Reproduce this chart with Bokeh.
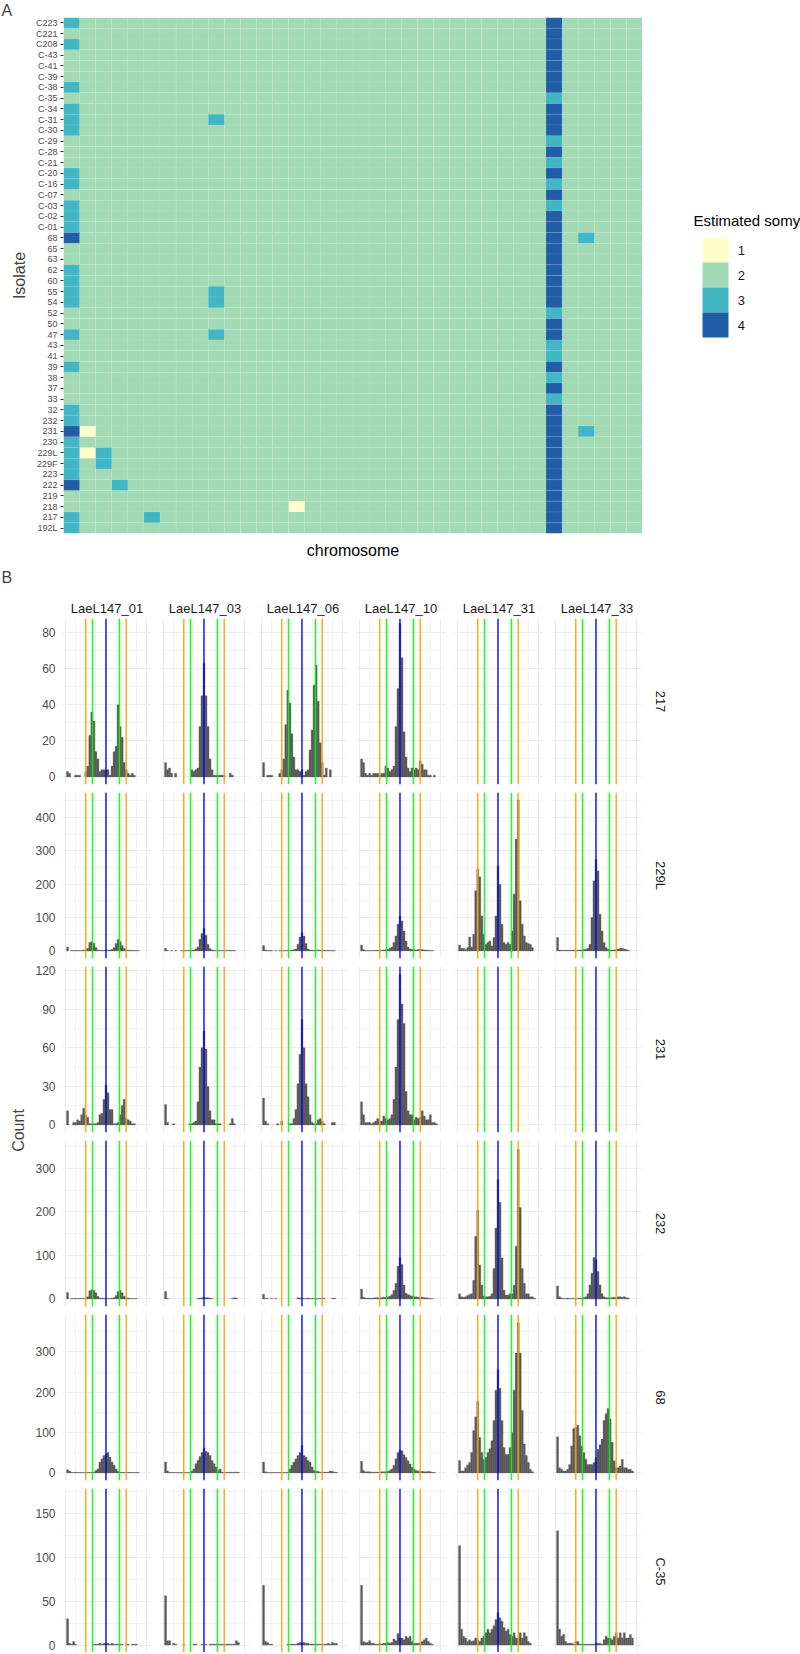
import numpy as np
from bokeh.plotting import figure
from bokeh.models import (ColumnDataSource, FactorRange, Range1d, Label, FixedTicker, Span, Grid, Title)
from bokeh.layouts import column, row
from bokeh.embed import file_html
from bokeh.resources import INLINE
from bokeh.core.properties import value

FONT = "Liberation Sans"

# ---------------- Panel A data ----------------
isolates = ["C223", "C221", "C208", "C-43", "C-41", "C-39", "C-38", "C-35", "C-34", "C-31",
            "C-30", "C-29", "C-28", "C-21", "C-20", "C-16", "C-07", "C-03", "C-02", "C-01",
            "68", "65", "63", "62", "60", "55", "54", "52", "50", "47",
            "43", "41", "39", "38", "37", "33", "32", "232", "231", "230",
            "229L", "229F", "223", "222", "219", "218", "217", "192L"]
chromosomes = list(range(1, 37))
# estimated somy per isolate (top to bottom), chromosomes 1..36 in blocks of six
somy_rows = [
    "322222 222222 222222 222222 222222 422222",  # C223
    "222222 222222 222222 222222 222222 422222",  # C221
    "322222 222222 222222 222222 222222 422222",  # C208
    "222222 222222 222222 222222 222222 422222",  # C-43
    "222222 222222 222222 222222 222222 422222",  # C-41
    "222222 222222 222222 222222 222222 422222",  # C-39
    "322222 222222 222222 222222 222222 422222",  # C-38
    "222222 222222 222222 222222 222222 322222",  # C-35
    "322222 222222 222222 222222 222222 422222",  # C-34
    "322222 222322 222222 222222 222222 422222",  # C-31
    "322222 222222 222222 222222 222222 422222",  # C-30
    "222222 222222 222222 222222 222222 322222",  # C-29
    "222222 222222 222222 222222 222222 422222",  # C-28
    "222222 222222 222222 222222 222222 322222",  # C-21
    "322222 222222 222222 222222 222222 422222",  # C-20
    "322222 222222 222222 222222 222222 322222",  # C-16
    "222222 222222 222222 222222 222222 422222",  # C-07
    "322222 222222 222222 222222 222222 322222",  # C-03
    "322222 222222 222222 222222 222222 422222",  # C-02
    "322222 222222 222222 222222 222222 422222",  # C-01
    "422222 222222 222222 222222 222222 423222",  # 68
    "222222 222222 222222 222222 222222 422222",  # 65
    "222222 222222 222222 222222 222222 422222",  # 63
    "322222 222222 222222 222222 222222 422222",  # 62
    "322222 222222 222222 222222 222222 422222",  # 60
    "322222 222322 222222 222222 222222 422222",  # 55
    "322222 222322 222222 222222 222222 422222",  # 54
    "222222 222222 222222 222222 222222 322222",  # 52
    "222222 222222 222222 222222 222222 422222",  # 50
    "322222 222322 222222 222222 222222 422222",  # 47
    "222222 222222 222222 222222 222222 322222",  # 43
    "222222 222222 222222 222222 222222 322222",  # 41
    "322222 222222 222222 222222 222222 422222",  # 39
    "222222 222222 222222 222222 222222 322222",  # 38
    "222222 222222 222222 222222 222222 422222",  # 37
    "222222 222222 222222 222222 222222 322222",  # 33
    "322222 222222 222222 222222 222222 422222",  # 32
    "322222 222222 222222 222222 222222 422222",  # 232
    "412222 222222 222222 222222 222222 423222",  # 231
    "322222 222222 222222 222222 222222 422222",  # 230
    "313222 222222 222222 222222 222222 422222",  # 229L
    "323222 222222 222222 222222 222222 422222",  # 229F
    "322222 222222 222222 222222 222222 422222",  # 223
    "422322 222222 222222 222222 222222 422222",  # 222
    "222222 222222 222222 222222 222222 422222",  # 219
    "222222 222222 221222 222222 222222 422222",  # 218
    "322223 222222 222222 222222 222222 422222",  # 217
    "322222 222222 222222 222222 222222 422222",  # 192L
]
somy_levels = ["1", "2", "3", "4"]
somy_palette = ["#FFFFCC", "#A1DAB4", "#41B6C4", "#225EA8"]

# ---------------- Panel B data (allele-frequency histograms, bins of 0.025 centred on k*0.025) ----------------
hist_isolates = ["217", "229L", "231", "232", "68", "C-35"]
hist_chroms = ["LaeL147_01", "LaeL147_03", "LaeL147_06", "LaeL147_10", "LaeL147_31", "LaeL147_33"]
bin_width = 0.025

c217_01 = [0,3,2,0,0,1,1,1,0,0, 3,6,23,36,31,14,10,3,4,4, 4,4,1,6,14,17,40,28,22,8, 4,2,1,2,1,0,0,0,0,0,0]
c217_03 = [0,8,4,5,2,0,2,0,0,0, 0,0,0,0,4,3,4,5,28,45, 63,45,28,10,4,1,1,1,1,1, 1,0,0,2,1,0,0,0,0,0,0]
c217_06 = [0,8,0,1,1,1,0,0,0,2, 4,10,29,48,41,24,11,4,4,3, 4,1,3,4,15,26,51,62,42,19, 8,1,5,0,4,0,0,0,0,0,0]
c217_10 = [0,10,8,2,1,2,1,2,2,2, 1,2,2,6,5,3,4,6,28,49, 85,66,25,11,5,3,5,4,5,4, 9,7,4,4,1,1,0,1,0,0,0]
c217_31 = [0]*41
c217_33 = [0]*41

c229L_01 = [0,12,0,1,1,1,1,1,2,2, 4,8,25,28,23,10,3,2,2,2, 2,2,3,4,10,22,35,28,16,8, 3,2,2,2,1,1,1,0,0,0,0]
c229L_03 = [0,8,1,0,1,0,1,0,0,1, 1,1,1,1,2,3,6,12,35,52, 68,47,20,7,3,2,1,1,1,1, 1,1,1,2,1,1,0,0,0,0,0]
c229L_06 = [0,16,3,1,1,1,0,1,0,1, 1,1,1,1,1,2,4,6,20,42, 55,45,22,6,3,2,2,2,3,2, 2,2,1,2,1,1,1,0,0,0,0]
c229L_10 = [0,18,4,1,1,1,1,1,2,2, 2,2,3,4,5,8,12,25,45,80, 105,90,60,30,12,6,5,4,3,4, 5,4,3,3,2,1,1,0,0,0,0]
c229L_31 = [0,18,8,8,4,10,42,12,50,180, 245,222,105,50,20,25,30,15,40,105, 255,200,80,25,20,25,20,60,170,335, 453,150,80,45,25,22,20,10,0,0,0]
c229L_33 = [0,40,3,2,2,2,2,2,2,3, 2,2,3,3,4,5,8,20,100,210, 275,240,110,60,25,10,5,3,3,3, 4,6,8,8,6,4,2,0,0,0,0]

c231_01 = [0,11,0,0,2,2,4,3,8,13, 8,6,1,1,1,1,2,8,9,20, 31,25,12,12,1,1,2,8,15,20, 5,4,3,1,1,0,0,0,0,0,0]
c231_03 = [0,16,2,0,0,1,0,0,0,0, 0,0,0,1,1,2,3,18,45,60, 73,59,30,11,4,4,1,1,1,0, 0,0,0,1,5,1,0,0,0,0,0]
c231_06 = [0,21,3,1,0,0,0,0,1,0, 3,0,0,0,1,1,5,12,32,55, 82,60,32,22,8,2,1,1,4,5, 3,1,0,0,0,2,2,0,0,0,0]
c231_10 = [0,18,8,2,2,2,1,2,3,5, 3,3,7,5,4,5,8,20,45,82, 117,94,79,26,11,8,8,4,6,5, 6,11,7,4,4,8,2,2,1,0,0]
c231_31 = [0]*41
c231_33 = [0]*41

c232_01 = [0,15,0,1,1,1,1,1,1,1, 2,5,19,21,20,14,6,2,2,1, 1,1,1,2,3,8,17,20,14,6, 3,2,1,1,1,1,0,0,0,0,0]
c232_03 = [0,17,1,0,0,0,0,0,0,0, 0,0,0,0,0,0,0,1,2,3, 4,3,3,2,1,0,0,0,0,0, 0,0,0,0,1,3,2,0,0,0,0]
c232_06 = [0,11,1,1,0,1,0,1,0,0, 0,0,0,0,0,0,0,0,3,2, 2,1,1,2,1,1,1,1,1,1, 2,1,0,0,0,1,2,0,0,0,0]
c232_10 = [0,23,4,2,2,2,2,2,3,3, 3,3,4,4,5,6,10,20,36,75, 95,79,32,13,10,8,6,5,5,4, 4,4,3,3,2,1,1,0,0,0,0]
c232_31 = [0,12,5,4,5,8,10,12,43,144, 204,78,32,7,5,5,6,12,70,163, 274,222,94,20,9,9,12,12,32,121, 343,210,70,36,12,12,5,5,2,0,0]
c232_33 = [0,30,5,2,1,1,2,1,1,1, 1,1,2,2,3,5,12,32,59,95, 90,63,32,12,5,3,3,3,3,4, 4,5,5,4,5,3,2,0,0,0,0]

c68_01 = [0,8,5,1,1,2,1,1,1,1, 1,1,1,1,2,6,10,27,35,43, 47,51,39,27,19,10,4,2,2,1, 1,2,1,1,1,1,1,0,0,0,0]
c68_03 = [0,27,5,1,1,1,1,1,1,1, 1,1,1,1,5,10,23,31,41,51, 62,54,51,43,31,23,15,6,10,2, 1,1,2,2,1,2,2,2,0,0,0]
c68_06 = [0,27,3,1,1,1,1,1,1,1, 1,1,1,2,10,19,27,35,43,51, 68,43,39,31,27,15,6,4,4,2, 2,2,2,2,5,4,2,2,0,0,0]
c68_10 = [0,29,6,3,3,3,2,2,2,2, 2,3,3,3,4,6,10,19,35,51, 57,55,45,38,30,22,14,10,6,5, 4,4,3,3,4,3,2,1,0,0,0]
c68_31 = [0,31,5,5,13,20,26,51,105,139, 178,88,51,34,38,51,60,80,130,205, 256,210,130,63,46,46,63,100,205,297, 373,297,155,72,43,26,9,3,0,0,0]
c68_33 = [0,90,13,9,5,5,9,21,67,110, 113,118,92,67,51,34,21,21,21,26, 38,59,70,84,130,147,160,134,76,30, 13,13,17,34,13,13,9,9,5,0,0]

cC35_01 = [0,30,2,1,4,1,0,0,0,0, 0,0,0,0,1,1,1,2,1,2, 2,2,1,2,1,1,1,1,1,0, 1,1,0,1,1,1,0,0,0,0,0]
cC35_03 = [0,56,5,5,0,2,1,0,0,0, 1,0,0,0,0,1,1,0,0,1, 0,1,0,1,1,1,1,1,1,1, 1,1,1,1,1,1,5,3,0,0,0]
cC35_06 = [0,68,4,3,1,1,0,0,0,0, 0,0,0,1,1,1,1,1,2,3, 3,3,2,2,1,1,1,1,1,1, 1,1,1,2,1,3,2,2,0,0,0]
cC35_10 = [0,68,4,3,3,5,2,2,1,1, 2,1,2,2,3,2,3,7,5,13, 8,8,6,10,8,10,4,2,2,2, 2,4,6,8,4,2,1,0,0,0,0]
cC35_31 = [0,113,18,10,8,4,6,4,5,8, 6,4,8,10,14,18,14,18,22,29, 37,31,27,20,16,18,12,10,14,8, 8,14,8,14,10,4,2,0,0,0,0]
cC35_33 = [0,130,18,10,12,4,2,2,2,1, 4,4,1,1,1,1,1,1,1,1, 2,2,2,1,6,10,8,8,6,10, 14,8,14,8,14,8,8,12,8,0,0]

hist_table = [
    [c217_01, c217_03, c217_06, c217_10, c217_31, c217_33],
    [c229L_01, c229L_03, c229L_06, c229L_10, c229L_31, c229L_33],
    [c231_01, c231_03, c231_06, c231_10, c231_31, c231_33],
    [c232_01, c232_03, c232_06, c232_10, c232_31, c232_33],
    [c68_01, c68_03, c68_06, c68_10, c68_31, c68_33],
    [cC35_01, cC35_03, cC35_06, cC35_10, cC35_31, cC35_33],
]
# free y scales (upper data limit of each facet row) and their tick labels
row_ymax = [83.6, 452, 117.4, 346.5, 374, 169.5]
row_yticks = [[0, 20, 40, 60, 80], [0, 100, 200, 300, 400], [0, 30, 60, 90, 120],
              [0, 100, 200, 300], [0, 100, 200, 300], [0, 50, 100, 150]]
# expected allele frequency lines
ref_freqs = [0.25, 1/3, 0.5, 2/3, 0.75]
ref_colors = ["#FFA500", "#00FF00", "#0000FF", "#00FF00", "#FFA500"]

# ======================= Panel A =======================
pA = figure(width=610, height=570, x_range=Range1d(0.5, 36.5),
            y_range=FactorRange(factors=isolates[::-1]),
            output_backend="svg", toolbar_location=None,
            min_border_left=30, min_border_right=0, min_border_top=17, min_border_bottom=37)
pA.grid.visible = False
pA.outline_line_color = None

for lev, col in zip(somy_levels, somy_palette):
    xs, ys = [], []
    for iso, srow in zip(isolates, somy_rows):
        s = srow.replace(" ", "")
        for ch, v in zip(chromosomes, s):
            if v == lev:
                xs.append(ch)
                ys.append(iso)
    src = ColumnDataSource(dict(x=xs, y=ys))
    pA.rect(x="x", y="y", width=1, height=1, source=src, fill_color=col,
            line_color="white", line_alpha=0.12, line_width=0.6)

pA.xaxis.ticker = FixedTicker(ticks=[])
pA.xaxis.axis_line_color = None
pA.xaxis.major_tick_out = 0
pA.xaxis.major_label_standoff = 0
pA.xaxis.axis_label = "chromosome"
pA.xaxis.axis_label_standoff = 8
pA.xaxis.axis_label_text_font = FONT
pA.xaxis.axis_label_text_font_size = "16px"
pA.xaxis.axis_label_text_font_style = "normal"
pA.xaxis.axis_label_text_color = "#000000"

pA.yaxis.axis_line_color = None
pA.yaxis.major_tick_out = 3
pA.yaxis.major_tick_in = 0
pA.yaxis.major_tick_line_color = "#333333"
pA.yaxis.major_label_text_font = FONT
pA.yaxis.major_label_text_font_size = "9px"
pA.yaxis.major_label_text_color = "#4D4D4D"
pA.yaxis.major_label_standoff = 3

# colour key: same frame height as the heatmap; one key unit = 26 px wide, 25 px tall
KEY_W, KEY_H = 26, 25
legW, legML = 158, 51
legFW, legFH = legW - legML, 516
key_left_px, key1_center_px = 9, 232.5       # offsets inside the key panel frame
legfig = figure(width=legW, height=570,
                x_range=Range1d(-key_left_px / KEY_W, (legFW - key_left_px) / KEY_W),
                y_range=Range1d(key1_center_px / KEY_H - legFH / KEY_H, key1_center_px / KEY_H),
                output_backend="svg", toolbar_location=None,
                x_axis_location=None, y_axis_location=None,
                min_border_left=legML, min_border_right=0, min_border_top=17, min_border_bottom=37)
legfig.grid.visible = False
legfig.outline_line_color = None
key_y = [-i for i in range(len(somy_levels))]
legfig.hbar(y=key_y, left=0, right=1, height=1, fill_color=somy_palette, line_color=None)
legfig.text(x=1.36, y=key_y, text=somy_levels, text_font=value(FONT), text_font_size="13px",
            text_color="#1A1A1A", text_baseline="middle", text_align="left")
legfig.add_layout(Label(x=0, y=legFH - 203, x_units="screen", y_units="screen", text="Estimated somy",
                        text_font=FONT, text_font_size="15px", text_color="#000000",
                        text_baseline="middle", text_align="left"))

# ======================= Panel B =======================
COLW = [124, 98, 98, 98, 98, 98]
COLML = [30, 4, 4, 4, 4, 4]
COLMR = [5, 5, 5, 5, 5, 5]
ROWH = [218, 174, 174, 174, 174, 168]
ROWMT = [48, 4, 4, 4, 4, 4]
ROWMB = [4, 4, 4, 4, 4, 0]
FH = 166

x_major = [0, 0.25, 0.5, 0.75, 1.0]
x_minor = [0.125, 0.375, 0.625, 0.875]

grid_rows = []
for r, iso in enumerate(hist_isolates):
    figs = []
    M = row_ymax[r]
    yt = row_yticks[r]
    step = yt[1] - yt[0]
    y_minor = [t + step / 2 for t in yt]
    for c, chrom in enumerate(hist_chroms):
        f = figure(width=COLW[c], height=ROWH[r],
                   x_range=Range1d(-0.0375, 1.0625), y_range=Range1d(-0.05 * M, 1.05 * M),
                   output_backend="svg", toolbar_location=None,
                   x_axis_location=None, y_axis_location=("left" if c == 0 else None),
                   min_border_left=COLML[c], min_border_right=COLMR[c],
                   min_border_top=ROWMT[r], min_border_bottom=ROWMB[r])
        f.center = [o for o in f.center if not isinstance(o, Grid)]
        f.outline_line_color = None
        f.add_layout(Grid(dimension=0, ticker=FixedTicker(ticks=x_major, minor_ticks=x_minor),
                          grid_line_color="#EBEBEB", grid_line_width=1.1,
                          minor_grid_line_color="#EBEBEB", minor_grid_line_width=0.6))
        f.add_layout(Grid(dimension=1, ticker=FixedTicker(ticks=yt, minor_ticks=y_minor),
                          grid_line_color="#EBEBEB", grid_line_width=1.1,
                          minor_grid_line_color="#EBEBEB", minor_grid_line_width=0.6))
        counts = hist_table[r][c]
        xs = [bin_width * k for k, v in enumerate(counts) if v > 0]
        ts = [v for v in counts if v > 0]
        f.vbar(x=xs, top=ts, bottom=0, width=bin_width, fill_color="#595959",
               line_color="#595959", line_width=0.3)
        for fq, colr in zip(ref_freqs, ref_colors):
            f.add_layout(Span(location=fq, dimension="height", line_color=colr,
                              line_width=1.5, line_alpha=0.9))
        if c == 0:
            f.yaxis.ticker = FixedTicker(ticks=yt)
            f.yaxis.axis_line_color = None
            f.yaxis.major_tick_out = 0
            f.yaxis.major_tick_in = 0
            f.yaxis.minor_tick_out = 0
            f.yaxis.minor_tick_in = 0
            f.yaxis.major_label_standoff = 7
            f.yaxis.major_label_text_font = FONT
            f.yaxis.major_label_text_font_size = "12px"
            f.yaxis.major_label_text_color = "#4D4D4D"
        if r == 0:
            f.add_layout(Title(text=chrom, align="center", standoff=6, text_font=FONT,
                               text_font_size="13px", text_font_style="normal",
                               text_color="#1A1A1A"), "above")
        figs.append(f)
    grid_rows.append(row(*figs))

# right strip with the facet row labels
rlabH = sum(ROWH)
rlab = figure(width=146, height=rlabH, x_range=Range1d(0, 1), y_range=Range1d(0, 1),
              output_backend="svg", toolbar_location=None,
              x_axis_location=None, y_axis_location=None, min_border=0)
rlab.grid.visible = False
rlab.outline_line_color = None
y_top = 0
for r, iso in enumerate(hist_isolates):
    centre_from_top = y_top + ROWMT[r] + FH / 2
    rlab.add_layout(Label(x=14, y=rlabH - centre_from_top, x_units="screen", y_units="screen",
                          text=iso, angle=-np.pi / 2, text_font=FONT, text_font_size="13px",
                          text_color="#1A1A1A", text_align="center", text_baseline="middle"))
    y_top += ROWH[r]

# left strip with panel letters and shared axis titles
labH = 570 + sum(ROWH)
lab = figure(width=32, height=labH, x_range=Range1d(0, 1), y_range=Range1d(0, 1),
             output_backend="svg", toolbar_location=None,
             x_axis_location=None, y_axis_location=None, min_border=0)
lab.grid.visible = False
lab.outline_line_color = None
TXT = dict(x_units="screen", y_units="screen", text_font=FONT, text_font_size="16px")
lab.add_layout(Label(x=1, y=labH - 10, text="A", text_align="left", text_baseline="middle", **TXT))
lab.add_layout(Label(x=19, y=labH - 275, text="Isolate", angle=np.pi / 2,
                     text_align="center", text_baseline="middle", **TXT))
lab.add_layout(Label(x=1, y=labH - 577, text="B", text_align="left",
                     text_baseline="middle", **TXT))
lab.add_layout(Label(x=18, y=labH - 1130, text="Count", angle=np.pi / 2,
                     text_align="center", text_baseline="middle", **TXT))

layout = row(lab, column(row(pA, legfig), row(column(*grid_rows), rlab)))
open("out.html", "w").write(file_html(layout, INLINE))
